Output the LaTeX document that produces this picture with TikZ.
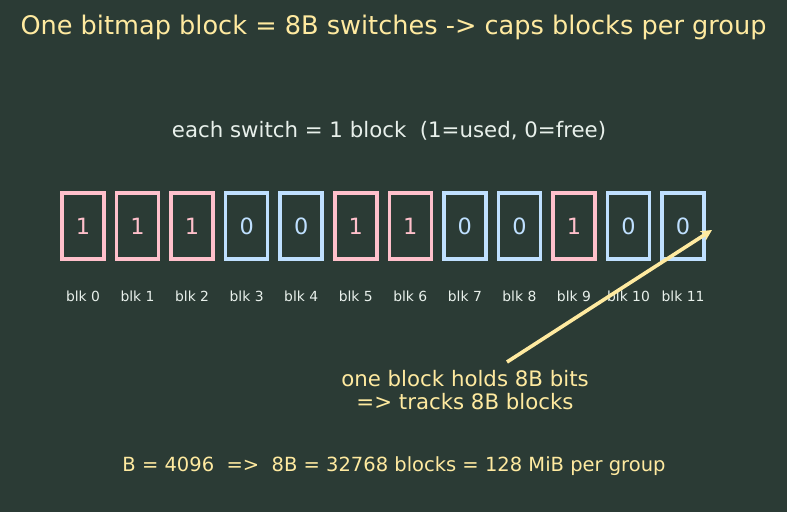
\documentclass[tikz,border=0pt]{standalone}
\usepackage{fontspec}
\setmainfont{DejaVu Sans}
\usetikzlibrary{arrows.meta}
\definecolor{bg}{RGB}{43,59,53}
\definecolor{ttl}{RGB}{255,234,160}
\definecolor{pk}{RGB}{255,192,203}
\definecolor{lb}{RGB}{191,224,255}
\definecolor{wt}{RGB}{232,240,235}
\tikzset{
  bitbox/.style={draw=#1, line width=3.6pt, minimum width=42pt, minimum height=66pt, inner sep=0pt, text=#1, font=\fontsize{22.4}{26}\selectfont},
  blklabel/.style={text=wt, font=\fontsize{13.9}{16}\selectfont, inner sep=0pt},
}
\begin{document}
\begin{tikzpicture}[x=1pt,y=-1pt]
\fill[bg] (0,0) rectangle (787,512);
\useasboundingbox (0,0) rectangle (787,512);
\node[text=ttl, font=\fontsize{25.6}{30}\selectfont] (title) at (393.5,27.5) {One bitmap block = 8B switches -> caps blocks per group};
\node[text=wt, font=\fontsize{21.3}{25}\selectfont] (sub) at (389,131) {each switch = 1 block\ \ (1=used, 0=free)};
\foreach \i/\v/\c in {0/1/pk,1/1/pk,2/1/pk,3/0/lb,4/0/lb,5/1/pk,6/1/pk,7/0/lb,8/0/lb,9/1/pk,10/0/lb,11/0/lb}{
  \node[bitbox=\c] (b\i) at (83+\i*54.55,226) {\v};
  \node[blklabel] (l\i) at (83+\i*54.55,296) {blk \i};
}
\node[text=ttl, font=\fontsize{21.3}{23.5}\selectfont, align=center] (note) at (465,390) {one block holds 8B bits\\=> tracks 8B blocks};
\coordinate (tip) at (712,230);
\coordinate (start) at (507,362);
\draw[ttl, line width=3.6pt, -{Stealth[length=11pt,width=11pt]}] (start) -- (tip);
\node[text=ttl, font=\fontsize{19.5}{23}\selectfont] (foot) at (394,466) {B = 4096\ \ =>\ \ 8B = 32768 blocks = 128 MiB per group};
\end{tikzpicture}
\end{document}
